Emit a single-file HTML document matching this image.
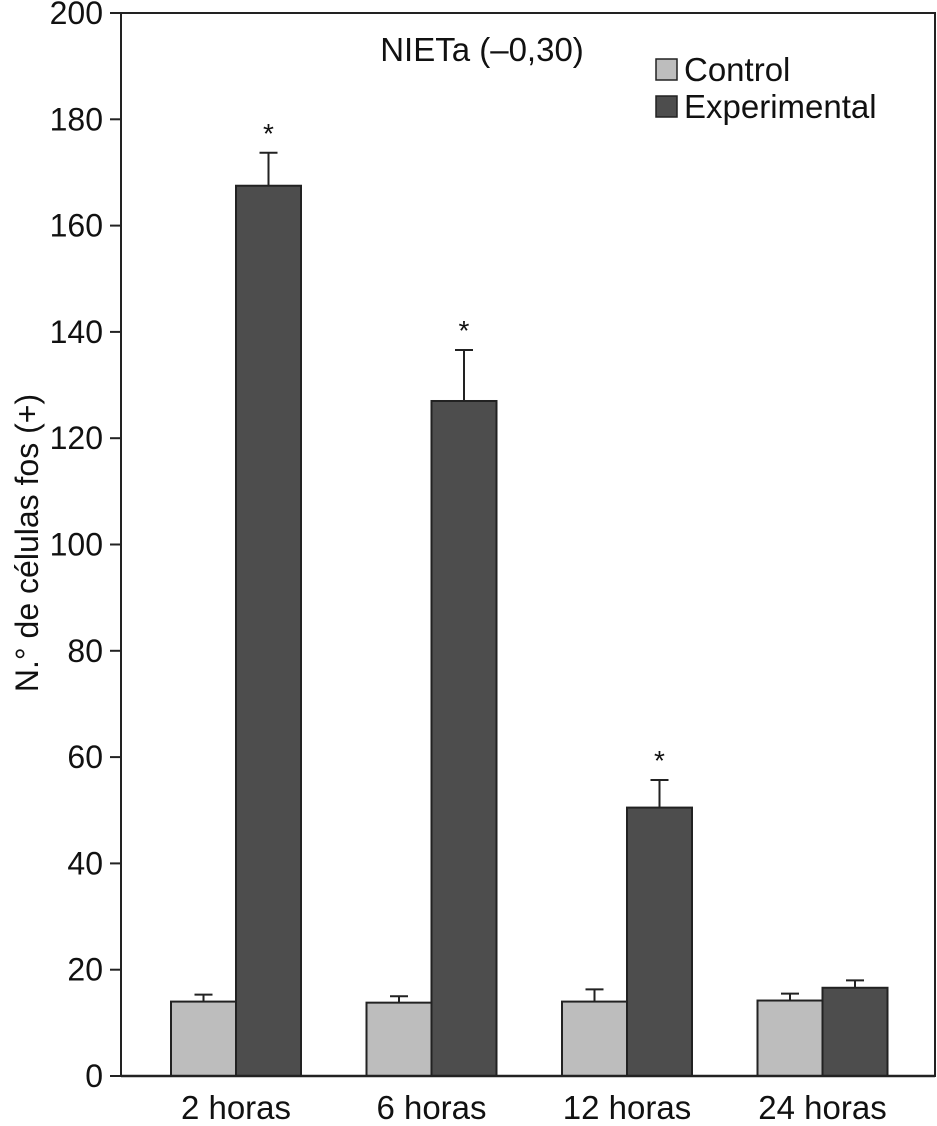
<!DOCTYPE html>
<html><head><meta charset="utf-8"><style>
body{margin:0;background:#fff}
svg text{font-family:"Liberation Sans",Arial,sans-serif;fill:#111}
</style></head><body>
<svg width="937" height="1121">
<g id="g"></g>
</svg>
<script>
const categories=["2 horas","6 horas","12 horas","24 horas"];
const controlValues=[14,13.8,14,14.2];
const controlErrors=[1.3,1.2,2.3,1.3];
const expValues=[167.5,127,50.5,16.6];
const expErrors=[6.2,9.6,5.2,1.4];
const significant=[true,true,true,false];
const yTicks=[0,20,40,60,80,100,120,140,160,180,200];

const NS="http://www.w3.org/2000/svg";
const g=document.getElementById('g');
const x0=121,x1=935,yb=1076,yt=13;
const y=v=>yb-(v/200)*(yb-yt);
const cx=i=>236+i*195.5;
const bw=65;
function el(t,a,txt){const e=document.createElementNS(NS,t);for(const k in a)e.setAttribute(k,a[k]);if(txt!=null)e.textContent=txt;g.appendChild(e);return e;}

let fr=el('rect',{x:x0,y:yt,width:x1-x0,height:yb-yt,fill:'none',stroke:'#222','stroke-width':2});



yTicks.forEach(v=>{
 let l=el('line',{x1:110,x2:x0,y1:y(v),y2:y(v),stroke:'#222','stroke-width':2});
 
 
 let t=el('text',{x:103,y:y(v)+11,'text-anchor':'end','font-size':32},v);
 
 
});

function bar(xl,v,e,fill,name){
 let tt=y(v+e);
 let el1=el('line',{x1:xl+bw/2,x2:xl+bw/2,y1:y(v),y2:tt,stroke:'#222','stroke-width':2});
 
 
 let el2=el('line',{x1:xl+bw/2-9,x2:xl+bw/2+9,y1:tt,y2:tt,stroke:'#222','stroke-width':2});
 
 
 let r=el('rect',{x:xl,y:y(v),width:bw,height:yb-y(v),fill:fill,stroke:'#222','stroke-width':2});
 
 
}
categories.forEach((c,i)=>{
 bar(cx(i)-bw,controlValues[i],controlErrors[i],'#bdbdbd','bar-control-'+i);
 bar(cx(i),expValues[i],expErrors[i],'#4d4d4d','bar-experimental-'+i);
 if(significant[i]){
  let s=el('text',{x:cx(i)+bw/2,y:y(expValues[i]+expErrors[i])-10,'text-anchor':'middle','font-size':28},'*');
  
  
 }
 let t=el('text',{x:cx(i),y:1119,'text-anchor':'middle','font-size':33},c);
 
 
});
let ax=el('line',{x1:x0,x2:x1,y1:yb,y2:yb,stroke:'#222','stroke-width':2.5});



let ti=el('text',{x:482,y:61,'text-anchor':'middle','font-size':33},'NIETa (\u20130,30)');



let yl=el('text',{x:0,y:0,'text-anchor':'middle','font-size':32,transform:'translate(38,543) rotate(-90)'},'N.\u00b0 de c\u00e9lulas fos (+)');



[['Control','#bdbdbd',59],['Experimental','#4d4d4d',96]].forEach(([n,f,yy])=>{
 let r=el('rect',{x:656,y:yy,width:21,height:21,fill:f,stroke:'#222','stroke-width':1.5});
 
 
 let t=el('text',{x:684,y:yy+22,'font-size':33},n);
 
 
});
</script>
</body></html>
